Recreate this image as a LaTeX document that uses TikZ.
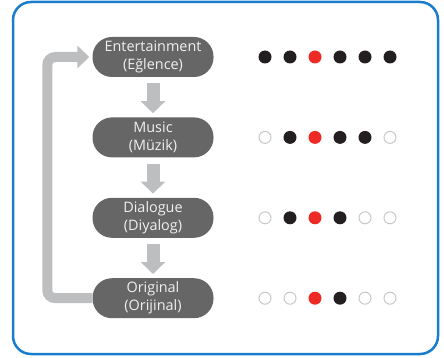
\documentclass[tikz,border=0pt]{standalone}
\usepackage{fontspec}
\setmainfont{Open Sans}
\usetikzlibrary{positioning,arrows.meta}
\definecolor{frameblue}{HTML}{1A7DCC}
\definecolor{pillgray}{HTML}{666666}
\definecolor{arrowgray}{HTML}{BDBEC0}
\definecolor{dotblack}{HTML}{231F20}
\definecolor{dotred}{HTML}{EE2A24}
\definecolor{dotring}{HTML}{C8C8C8}
\tikzset{
  pill/.style={rectangle, rounded corners=19.5pt, fill=pillgray, text=white!94!black,
               minimum width=121pt, minimum height=40pt, inner sep=0pt, align=center,
               font=\fontsize{14.4}{18}\selectfont},
  down/.style={draw=arrowgray, line width=13pt, -{Triangle[length=12pt,width=24pt]}},
  loopback/.style={draw=arrowgray, line width=10pt, rounded corners=8pt,
                   -{Triangle[length=12pt,width=22pt]}},
  fulldot/.style={circle, fill=dotblack, minimum size=13pt, inner sep=0pt},
  reddot/.style={circle, fill=dotred, minimum size=13pt, inner sep=0pt},
  emptydot/.style={circle, draw=dotring, line width=1pt, fill=white, minimum size=12pt, inner sep=0pt},
}

\begin{document}
\begin{tikzpicture}[x=1pt, y=-1pt]
  \useasboundingbox (0,0) rectangle (444,358);
  \draw[frameblue, line width=2.5pt, rounded corners=18pt] (13,2) rectangle (438,354);

  \node[pill] (ent) at (153,57) {Entertainment\\(Eğlence)};
  \node[pill, below=40pt of ent] (mus) {Music\\(Müzik)};
  \node[pill, below=40pt of mus] (dia) {Dialogue\\(Diyalog)};
  \node[pill, below=40pt of dia] (orig) {Original\\(Orijinal)};

  \draw[down] ([yshift=-6pt]ent.south) -- ([yshift=4pt]mus.north);
  \draw[down] ([yshift=-6pt]mus.south) -- ([yshift=4pt]dia.north);
  \draw[down] ([yshift=-6pt]dia.south) -- ([yshift=4pt]orig.north);
  \draw[loopback] (orig.west) -- ++(-45,0) |- ([xshift=-3pt]ent.west);

  % level dots
  \foreach \r/\pat in {ent/{fulldot,fulldot,reddot,fulldot,fulldot,fulldot},
                       mus/{emptydot,fulldot,reddot,fulldot,fulldot,emptydot},
                       dia/{emptydot,fulldot,reddot,fulldot,emptydot,emptydot},
                       orig/{emptydot,emptydot,reddot,fulldot,emptydot,emptydot}}
    \foreach \s [count=\i] in \pat
      \node[\s] (\r-\i) at ([xshift={87+25*\i}]\r.center) {};
\end{tikzpicture}
\end{document}
